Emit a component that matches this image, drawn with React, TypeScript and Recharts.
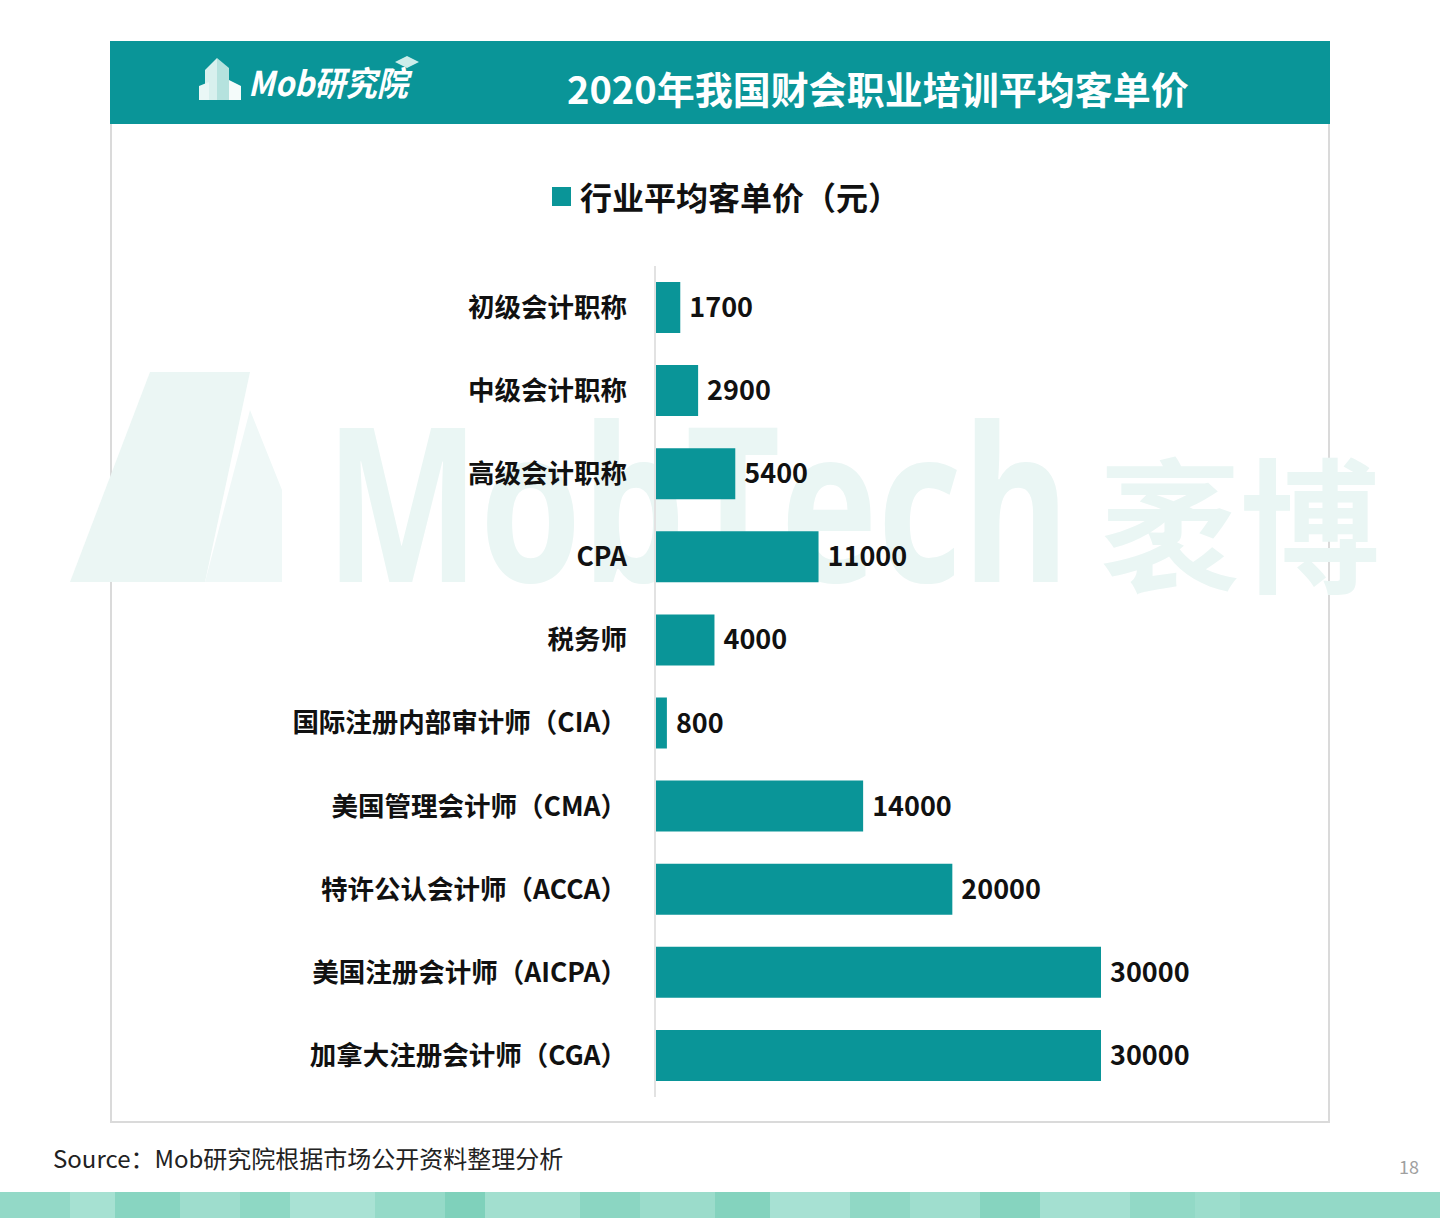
import React from "react";
import { BarChart, Bar, XAxis, YAxis, LabelList } from "recharts";

const categories = [
  "初级会计职称",
  "中级会计职称",
  "高级会计职称",
  "CPA",
  "税务师",
  "国际注册内部审计师（CIA）",
  "美国管理会计师（CMA）",
  "特许公认会计师（ACCA）",
  "美国注册会计师（AICPA）",
  "加拿大注册会计师（CGA）",
];
const prices = [1700, 2900, 5400, 11000, 4000, 800, 14000, 20000, 30000, 30000];

const seriesName = "行业平均客单价（元）";
const title = "2020年我国财会职业培训平均客单价";
const source = "Source：Mob研究院根据市场公开资料整理分析";

const data = categories.map((name, i) => ({ name, value: prices[i] }));

const TEAL = "#0A9598";
const CJK = '"Noto Sans CJK SC", "Noto Sans", sans-serif';

const stripe = [
  ["#93D9C7", 70], ["#A6E1D2", 45], ["#88D5C1", 65], ["#9EDDCD", 60],
  ["#8ED8C4", 50], ["#A9E2D4", 85], ["#95DAC8", 70], ["#7FD1BB", 40],
  ["#A2DFCF", 95], ["#8BD6C2", 60], ["#9BDCCB", 75], ["#84D3BE", 55],
  ["#A7E1D3", 80], ["#90D8C5", 60], ["#9FDECE", 70], ["#86D4BF", 60],
  ["#A4E0D1", 90], ["#92D9C6", 65], ["#9CDDCC", 45],
];

function Logo() {
  return (
    <svg width={240} height={60} style={{ position: "absolute", left: 195, top: 50 }}>
      <polygon points="10,20 22,8 22,50 10,50" fill="#D8F0EE" />
      <polygon points="22,8 34,18 34,50 22,50" fill="#B5E2DE" />
      <polygon points="4,36 14,32 14,50 4,50" fill="#EAF7F6" />
      <polygon points="34,30 46,36 46,50 34,50" fill="#F4FBFA" />
      <text x={53} y={46} fill="#fff" fontSize={34} fontWeight={700} fontStyle="italic"
        fontFamily={CJK} textLength={160} lengthAdjust="spacingAndGlyphs">Mob研究院</text>
      <polygon points="200,12 212,6 224,12 212,18" fill="#CDEDEA" />
    </svg>
  );
}

// faint brand watermark behind the plot
function Watermark() {
  return (
    <svg width={1440} height={360} style={{ position: "absolute", left: 0, top: 300, overflow: "visible" }}>
      <polygon points="70,282 150,72 250,72 205,282" fill="#EBF6F4" />
      <polygon points="205,282 250,110 282,190 282,282" fill="#EFF8F7" />
      <text x={325} y={282} fill="#EAF6F4" fontSize={215} fontWeight={700}
        fontFamily='"Open Sans", sans-serif' textLength={745} lengthAdjust="spacingAndGlyphs">MobTech</text>
      <text x={1100} y={282} fill="#EAF6F4" fontSize={145} fontWeight={700}
        fontFamily={CJK} textLength={280} lengthAdjust="spacingAndGlyphs">袤博</text>
    </svg>
  );
}

export default function App() {
  return (
    <div style={{ position: "absolute", left: 0, top: 0, width: 1440, height: 1218, background: "#fff", overflow: "hidden", fontFamily: CJK }}>
      <div style={{ position: "absolute", left: 110, top: 41, width: 1216, height: 1078, border: "2px solid #DADADA", background: "#fff" }} />
      <Watermark />
      <div style={{ position: "absolute", left: 110, top: 41, width: 1220, height: 83, background: TEAL }} />
      <Logo />
      <div style={{ position: "absolute", left: 567, top: 60, color: "#fff", fontSize: 38, fontWeight: 700, lineHeight: "56px", whiteSpace: "nowrap" }}>
        {title}
      </div>

      <div style={{ position: "absolute", left: 552, top: 187, width: 19, height: 19, background: TEAL }} />
      <div style={{ position: "absolute", left: 580, top: 174, fontSize: 32, fontWeight: 700, color: "#111", lineHeight: "44px", whiteSpace: "nowrap" }}>
        {seriesName}
      </div>

      <div style={{ position: "absolute", left: 0, top: 266 }}>
        <BarChart width={1440} height={831} data={data} layout="vertical"
          margin={{ top: 0, right: 339, bottom: 0, left: 0 }}>
          <XAxis type="number" domain={[0, 30000]} hide />
          <YAxis type="category" dataKey="name" width={655} axisLine={{ stroke: "#E2E2E2", strokeWidth: 2 }}
            tickLine={false} tickSize={0} tickMargin={28} interval={0}
            tick={{ fill: "#111", fontSize: 26.5, fontWeight: 700, fontFamily: CJK }} />
          <Bar dataKey="value" fill={TEAL} barSize={51} isAnimationActive={false}>
            <LabelList dataKey="value" position="right" offset={9}
              style={{ fill: "#111", fontSize: 27, fontWeight: 700, fontFamily: CJK }} />
          </Bar>
        </BarChart>
      </div>

      <div style={{ position: "absolute", left: 53, top: 1141, fontSize: 24, color: "#222", lineHeight: "34px", whiteSpace: "nowrap" }}>
        {source}
      </div>
      <div style={{ position: "absolute", left: 1399, top: 1154, fontSize: 18, color: "#A0A0A0", lineHeight: "24px" }}>18</div>

      <div style={{ position: "absolute", left: 0, top: 1192, width: 1440, height: 26, display: "flex" }}>
        {stripe.map(([c, w], i) => (
          <div key={i} style={{ width: w as number, height: 26, background: c as string, flex: "none" }} />
        ))}
        <div style={{ flex: 1, background: "#93D9C7" }} />
      </div>
    </div>
  );
}
